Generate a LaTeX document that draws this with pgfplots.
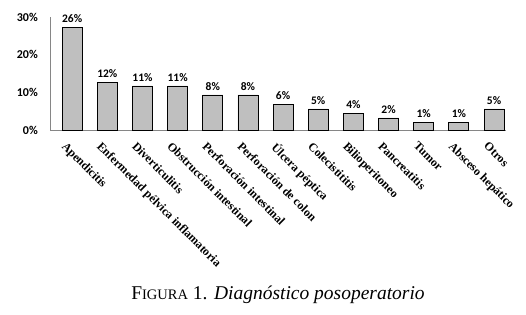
\documentclass[border=0pt]{standalone}
\usepackage{pgfplots}
\usepackage{pgfplotstable}
\pgfplotsset{compat=1.18}
\usepackage{fontspec}
\setmainfont{Liberation Serif}
\newfontfamily\carlito{Carlito}
\definecolor{barfill}{HTML}{BFBFBF}
\definecolor{axisgray}{HTML}{868686}
\pgfplotstableread{
x y lab
0 27.3 26\%
1 12.7 12\%
2 11.7 11\%
3 11.7 11\%
4 9.3 8\%
5 9.3 8\%
6 6.9 6\%
7 5.6 5\%
8 4.5 4\%
9 3.2 2\%
10 2.1 1\%
11 2.1 1\%
12 5.6 5\%
}\datatable
\begin{document}
\begin{tikzpicture}
\useasboundingbox[fill=white] (0,0) rectangle (526pt,-315pt);
\begin{axis}[
  at={(50pt,-130pt)}, anchor=south west,
  scale only axis, width=456pt, height=113pt,
  xmin=-0.63, xmax=12.34, ymin=0, ymax=30,
  axis x line*=bottom, axis y line*=left,
  axis line style={axisgray, line width=1pt, -},
  x axis line style={-}, y axis line style={-},
  ytick={0,10,20,30}, yticklabels={0\%,10\%,20\%,30\%},
  major tick length=0pt,
  yticklabel style={font=\carlito\bfseries\fontsize{12}{12}\selectfont, inner sep=0pt, xshift=-12pt},
  xtick=data,
  xticklabels={Apendicitis,Enfermedad pélvica inflamatoria,Diverticulitis,Obstrucción intestinal,Perforación intestinal,Perforación de colon,Úlcera péptica,Colecistititis,Bilioperitoneo,Pancreatitis,Tumor,Absceso hepático,Otros},
  xticklabel style={font=\bfseries\fontsize{12}{12}\selectfont, inner sep=0pt, anchor=north west, xshift=-5pt, yshift=-11pt, rotate=-45},
  ybar, bar width=20pt, bar shift=0pt,
  nodes near coords,
  point meta=explicit symbolic,
  every node near coord/.append style={font=\carlito\bfseries\fontsize{11.5}{12}\selectfont, anchor=south, yshift=1pt},
  clip=false,
]
\addplot[fill=barfill, draw=black, line width=0.8pt] table[x=x, y=y, meta=lab] {\datatable};
\end{axis}
\node[font=\fontsize{19.5}{21}\selectfont] at (278pt,-295pt) {F{\fontsize{14.5}{15}\selectfont IGURA} 1. \textit{Diagnóstico posoperatorio}};
\end{tikzpicture}
\end{document}
